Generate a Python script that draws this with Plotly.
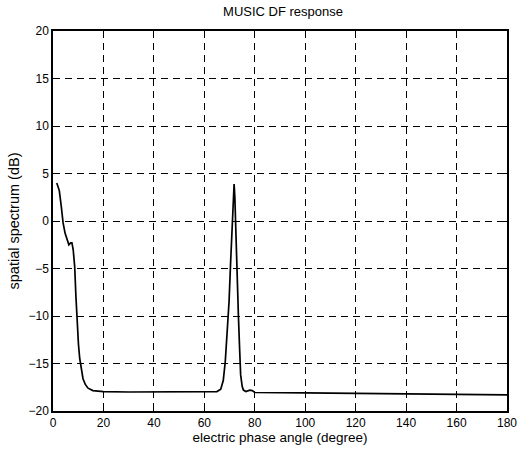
import plotly.graph_objects as go

angle = [1.5, 2.5, 3.3, 4.0, 4.8, 5.6, 6.3, 7.0, 7.5, 8.0, 8.6, 9.1, 9.6, 10.1, 10.6,
         11.2, 11.9, 12.8, 13.9, 15.8, 20, 30, 40, 50, 60, 65, 66.5, 67.5, 68.3, 69.1,
         69.8, 70.4, 70.9, 71.4, 71.8, 72.1, 72.4, 72.9, 73.5, 74.0, 74.4, 75.0, 75.5,
         76.5, 78, 79, 80, 100, 120, 140, 160, 180]
spectrum = [4.0, 3.2, 1.5, -0.2, -1.3, -2.1, -2.5, -2.3, -2.3, -3.0, -4.8, -8.0, -11.0, -13.0, -14.5,
            -15.7, -16.6, -17.2, -17.6, -17.85, -17.95, -18.0, -18.0, -18.0, -18.0, -17.95, -17.7, -16.8, -14.8, -11.5,
            -8.5, -4.5, -0.8, 2.5, 3.9, 2.5, -0.8, -5.0, -9.9, -13.5, -16.2, -17.4, -17.8,
            -17.95, -17.8, -17.85, -18.05, -18.1, -18.15, -18.2, -18.25, -18.3]

x_ticks = [0, 20, 40, 60, 80, 100, 120, 140, 160, 180]
y_ticks = [-20, -15, -10, -5, 0, 5, 10, 15, 20]

FONT = "Liberation Sans, Arial"

fig = go.Figure()
fig.add_trace(go.Scatter(x=angle, y=spectrum, mode="lines",
                         line=dict(color="black", width=1.7), showlegend=False))

axis_common = dict(
    showline=True, linecolor="black", linewidth=1.5, mirror="ticks",
    ticks="inside", ticklen=5, tickcolor="black", tickwidth=1,
    showgrid=True, gridcolor="black", gridwidth=1, griddash="7px,5px",
    zeroline=False, tickfont=dict(family=FONT, size=12, color="black"),
)

fig.update_xaxes(range=[0, 180], tickvals=x_ticks,
                 title=dict(text="electric phase angle (degree)", standoff=3,
                            font=dict(family=FONT, size=13.5, color="black")),
                 **axis_common)
fig.update_yaxes(range=[-20, 20], tickvals=y_ticks,
                 title=dict(text="spatial spectrum (dB)", standoff=5,
                            font=dict(family=FONT, size=14.5, color="black")),
                 **axis_common)

fig.update_layout(
    width=529, height=455,
    margin=dict(l=53, r=18, t=31, b=42),
    paper_bgcolor="white", plot_bgcolor="white",
    title=dict(text="MUSIC DF response", x=0.535, xanchor="center", y=0.975, yanchor="middle",
               font=dict(family=FONT, size=13, color="black")),
)

fig.write_html("out.html")
